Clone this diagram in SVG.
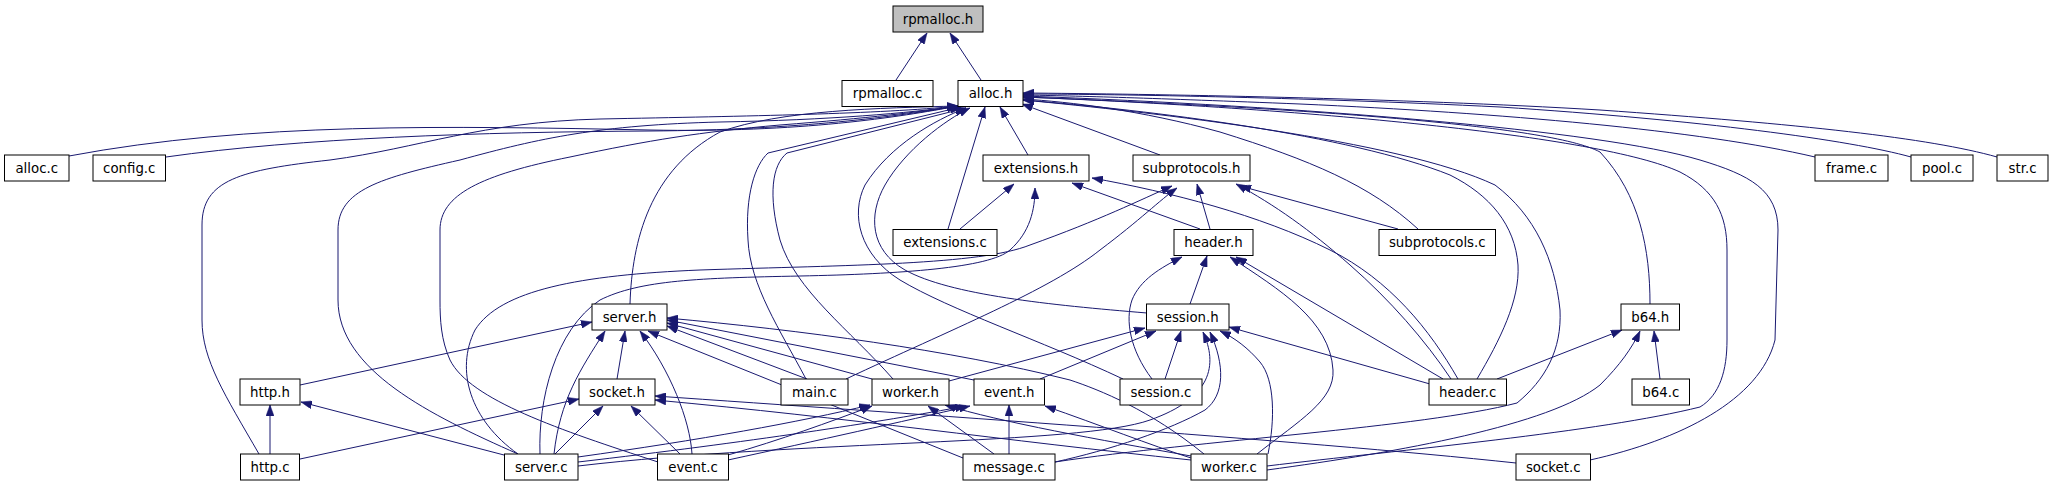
<svg xmlns="http://www.w3.org/2000/svg" width="2053" height="485" viewBox="0 0 2053 485">
<style>
.n rect{fill:#fff;stroke:#000;stroke-width:1}
.n text{font-family:"DejaVu Sans",sans-serif;font-size:13.33px;text-anchor:middle;fill:#000}
.e path{fill:none;stroke:#191970;stroke-width:1;marker-end:url(#a)}
</style>
<defs>
<marker id="a" markerUnits="userSpaceOnUse" markerWidth="11" markerHeight="8" refX="11" refY="4" orient="auto">
<path d="M0,0 L11,4 L0,8 z" fill="#191970" stroke="#191970" stroke-width="0.5"/>
</marker>
</defs>
<rect width="2053" height="485" fill="#fff"/>
<g id="connectors" class="e">
<path d="M896,80 L927,33"/>
<path d="M981,80 L950,33"/>
<path d="M69,156 C 250,122 450,126 650,130 C 800,133 900,117 958,106"/>
<path d="M166,157 C 300,138 480,132 650,131 C 800,130 900,116 958,106"/>
<path d="M259,454 C 225,395 202,360 202,320 L202,225 C 202,180 240,170 330,160 C 420,148 480,122 600,119 C 750,116 880,114 958,106"/>
<path d="M518,454 C 430,415 338,370 338,300 L338,230 C 338,190 380,178 460,160 C 540,138 600,125 720,122 C 830,120 910,113 958,106"/>
<path d="M658,462 C 560,430 470,400 450,360 C 441,340 440,320 440,300 L440,230 C 440,195 480,175 570,157 C 650,140 700,132 780,125 C 870,118 920,112 958,106"/>
<path d="M630,304 C 632,240 650,170 720,132 C 780,110 880,108 958,106"/>
<path d="M806,379 C 780,330 750,285 748,240 C 745,195 755,165 768,153 L961,107"/>
<path d="M893,379 C 850,330 795,290 780,240 C 768,195 772,165 787,153 L966,108"/>
<path d="M1123,379 C 1040,340 950,310 900,280 C 860,255 850,215 865,185 C 890,145 935,120 966,108"/>
<path d="M1147,313 C 1050,305 950,295 905,270 C 870,250 868,215 885,185 C 905,150 945,120 970,108"/>
<path d="M948,229 L985,107"/>
<path d="M1028,155 L1000,107"/>
<path d="M1160,155 L1022,104"/>
<path d="M1815,157 C 1700,130 1500,113 1300,104 C 1150,98 1080,96 1023,95"/>
<path d="M1911,157 C 1850,140 1700,120 1500,107 C 1300,97 1100,94 1023,94"/>
<path d="M1997,157 C 1930,138 1800,124 1600,110 C 1400,98 1150,94 1023,93"/>
<path d="M1418,229 C 1370,185 1310,160 1220,132 C 1140,110 1070,102 1023,99"/>
<path d="M1477,379 C 1500,340 1520,300 1518,265 C 1515,225 1490,195 1450,175 C 1350,135 1150,110 1023,100"/>
<path d="M1055,462 C 1200,440 1420,428 1517,403 C 1545,380 1562,350 1560,310 C 1555,260 1535,215 1495,185 C 1400,140 1150,112 1023,100"/>
<path d="M1650,304 C 1650,250 1640,195 1600,152 C 1550,125 1300,108 1023,97"/>
<path d="M1267,466 C 1400,450 1600,432 1700,407 C 1720,395 1727,370 1727,340 L1727,250 C 1727,215 1715,190 1680,172 C 1600,135 1300,108 1023,97"/>
<path d="M1590,460 C 1680,440 1760,400 1775,340 L1778,230 C 1778,190 1750,175 1700,160 C 1600,130 1300,106 1023,96"/>
<path d="M960,229 L1014,184"/>
<path d="M540,454 C 538,400 555,330 600,300 C 640,280 700,278 800,276 C 900,274 990,268 1010,250 C 1030,232 1035,210 1035,188"/>
<path d="M1200,229 L1072,183"/>
<path d="M1458,379 C 1430,330 1390,280 1330,250 C 1260,215 1170,192 1092,178"/>
<path d="M1210,229 L1197,184"/>
<path d="M1398,229 L1240,186"/>
<path d="M1451,379 C 1425,340 1390,300 1350,265 C 1310,230 1275,205 1236,184"/>
<path d="M518,454 C 470,420 455,370 475,330 C 500,290 580,275 700,270 C 850,265 980,265 1030,245 C 1100,220 1140,200 1172,186"/>
<path d="M846,379 C 950,330 1050,290 1100,250 C 1140,220 1160,200 1177,188"/>
<path d="M1190,304 L1207,256"/>
<path d="M1152,379 C 1130,350 1125,320 1132,300 C 1140,280 1160,268 1182,257"/>
<path d="M1443,379 L1236,257"/>
<path d="M1257,454 C 1300,420 1335,400 1333,370 C 1330,320 1280,290 1230,257"/>
<path d="M300,385 L592,322"/>
<path d="M554,454 C 560,400 580,370 605,331"/>
<path d="M617,379 L625,331"/>
<path d="M692,454 C 690,420 670,370 640,331"/>
<path d="M963,458 L648,331"/>
<path d="M807,379 L667,326"/>
<path d="M872,379 L667,323"/>
<path d="M974,380 L667,320"/>
<path d="M1204,454 C 1150,410 1100,390 1070,380 C 950,350 800,330 667,318"/>
<path d="M300,459 L579,399"/>
<path d="M555,454 L603,406"/>
<path d="M680,454 L631,406"/>
<path d="M1191,460 C 1000,440 850,418 655,400"/>
<path d="M1516,463 C 1300,440 900,413 655,396"/>
<path d="M270,454 L270,405"/>
<path d="M504,455 L301,402"/>
<path d="M578,457 C 700,440 800,422 870,405"/>
<path d="M728,455 C 780,440 830,422 872,406"/>
<path d="M994,454 L928,406"/>
<path d="M1191,456 C 1100,440 1000,422 945,405"/>
<path d="M578,462 C 750,442 880,422 966,406"/>
<path d="M728,460 C 820,440 900,422 970,406"/>
<path d="M1009,454 L1009,405"/>
<path d="M1191,458 C 1150,445 1100,425 1045,406"/>
<path d="M949,381 L1145,328"/>
<path d="M1040,379 L1156,331"/>
<path d="M1165,379 L1181,331"/>
<path d="M578,466 C 800,440 1080,445 1150,420 C 1212,398 1218,365 1203,332"/>
<path d="M1055,462 C 1110,450 1170,430 1205,410 C 1225,395 1225,365 1210,332"/>
<path d="M1268,454 C 1275,420 1275,380 1260,362 C 1248,348 1235,338 1220,331"/>
<path d="M1430,384 L1229,327"/>
<path d="M1660,379 L1654,331"/>
<path d="M1497,379 L1622,330"/>
<path d="M1267,470 C 1400,452 1550,425 1600,385 C 1620,365 1632,348 1640,331"/>
</g>
<g id="rpmalloc_h" class="n"><rect x="893" y="6" width="90" height="26" style="fill:#bfbfbf"/><text x="938" y="23.5">rpmalloc.h</text></g>
<g id="rpmalloc_c" class="n"><rect x="842" y="80.5" width="91" height="26"/><text x="887.5" y="98">rpmalloc.c</text></g>
<g id="alloc_h" class="n"><rect x="958" y="80.5" width="65" height="26"/><text x="990.5" y="98">alloc.h</text></g>
<g id="alloc_c" class="n"><rect x="4.5" y="155" width="64.5" height="26"/><text x="36.75" y="172.5">alloc.c</text></g>
<g id="config_c" class="n"><rect x="93" y="155" width="72.5" height="26"/><text x="129.25" y="172.5">config.c</text></g>
<g id="extensions_h" class="n"><rect x="983" y="155" width="106" height="26"/><text x="1036" y="172.5">extensions.h</text></g>
<g id="subprotocols_h" class="n"><rect x="1133" y="155" width="117" height="26"/><text x="1191.5" y="172.5">subprotocols.h</text></g>
<g id="frame_c" class="n"><rect x="1815" y="155" width="73" height="26"/><text x="1851.5" y="172.5">frame.c</text></g>
<g id="pool_c" class="n"><rect x="1911" y="155" width="62" height="26"/><text x="1942" y="172.5">pool.c</text></g>
<g id="str_c" class="n"><rect x="1997" y="155" width="51" height="26"/><text x="2022.5" y="172.5">str.c</text></g>
<g id="extensions_c" class="n"><rect x="893" y="229.5" width="104" height="26"/><text x="945" y="247">extensions.c</text></g>
<g id="header_h" class="n"><rect x="1174" y="229.5" width="79" height="26"/><text x="1213.5" y="247">header.h</text></g>
<g id="subprotocols_c" class="n"><rect x="1379" y="229.5" width="116.5" height="26"/><text x="1437.25" y="247">subprotocols.c</text></g>
<g id="server_h" class="n"><rect x="592" y="304" width="75" height="26"/><text x="629.5" y="321.5">server.h</text></g>
<g id="session_h" class="n"><rect x="1146.5" y="304" width="82.5" height="26"/><text x="1187.75" y="321.5">session.h</text></g>
<g id="b64_h" class="n"><rect x="1621" y="304" width="58.5" height="26"/><text x="1650.25" y="321.5">b64.h</text></g>
<g id="http_h" class="n"><rect x="240" y="379" width="60" height="26"/><text x="270" y="396.5">http.h</text></g>
<g id="socket_h" class="n"><rect x="579" y="379" width="76" height="26"/><text x="617" y="396.5">socket.h</text></g>
<g id="main_c" class="n"><rect x="781" y="379" width="67" height="26"/><text x="814.5" y="396.5">main.c</text></g>
<g id="worker_h" class="n"><rect x="872" y="379" width="77" height="26"/><text x="910.5" y="396.5">worker.h</text></g>
<g id="event_h" class="n"><rect x="974" y="379" width="70.5" height="26"/><text x="1009.25" y="396.5">event.h</text></g>
<g id="session_c" class="n"><rect x="1120" y="379" width="82" height="26"/><text x="1161" y="396.5">session.c</text></g>
<g id="header_c" class="n"><rect x="1429" y="379" width="77.5" height="26"/><text x="1467.75" y="396.5">header.c</text></g>
<g id="b64_c" class="n"><rect x="1632" y="379" width="57.5" height="26"/><text x="1660.75" y="396.5">b64.c</text></g>
<g id="http_c" class="n"><rect x="240.5" y="454" width="59" height="26"/><text x="270" y="471.5">http.c</text></g>
<g id="server_c" class="n"><rect x="504.5" y="454" width="73.5" height="26"/><text x="541.25" y="471.5">server.c</text></g>
<g id="event_c" class="n"><rect x="657.5" y="454" width="71" height="26"/><text x="693" y="471.5">event.c</text></g>
<g id="message_c" class="n"><rect x="963" y="454" width="92" height="26"/><text x="1009" y="471.5">message.c</text></g>
<g id="worker_c" class="n"><rect x="1191" y="454" width="76" height="26"/><text x="1229" y="471.5">worker.c</text></g>
<g id="socket_c" class="n"><rect x="1516" y="454" width="74.5" height="26"/><text x="1553.25" y="471.5">socket.c</text></g>
</svg>
